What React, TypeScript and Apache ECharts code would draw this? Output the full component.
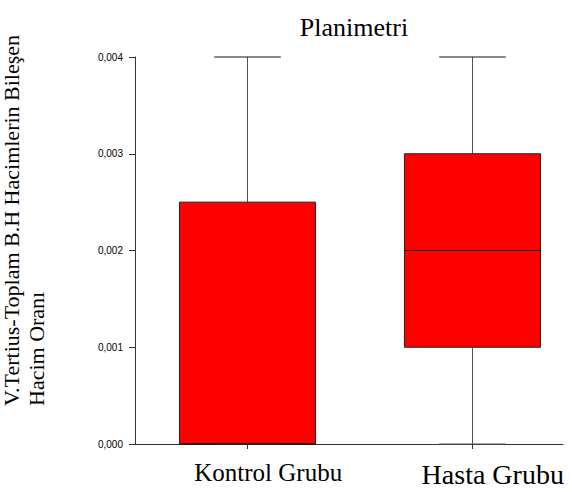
import React, { useEffect, useRef } from "react";
import * as echarts from "echarts";

const categories = ["Kontrol Grubu", "Hasta Grubu"];
// [min, Q1, median, Q3, max]
const boxValues = [
  [0, 0, 0, 0.0025, 0.004],
  [0, 0.001, 0.002, 0.003, 0.004],
];
const yTicks = [0, 0.001, 0.002, 0.003, 0.004];
const yTickLabels = ["0,000", "0,001", "0,002", "0,003", "0,004"];
const titleText = "Planimetri";
const yTitleLines = ["V.Tertius-Toplam B.H Hacimlerin Bileşen", "Hacim Oranı"];

const SERIF = '"Liberation Serif", "Times New Roman", Times, serif';
const SANS = '"Liberation Sans", Arial, Helvetica, sans-serif';

export default function App() {
  const ref = useRef<HTMLDivElement>(null);
  useEffect(() => {
    if (!ref.current) return;
    const chart = echarts.init(ref.current, null, { renderer: "svg" });
    const data = boxValues.map((v, i) => [i, ...v]);
    chart.setOption({
      animation: false,
      backgroundColor: "#ffffff",
      graphic: [
        {
          type: "text",
          x: 354,
          y: 27,
          style: {
            text: titleText,
            fontFamily: SERIF,
            fontSize: 26,
            fill: "#000",
            textAlign: "center",
            textVerticalAlign: "middle",
          },
        },
        {
          type: "text",
          x: -1,
          y: 406,
          rotation: Math.PI / 2,
          style: {
            text: yTitleLines.join("\n"),
            fontFamily: SERIF,
            fontSize: 22,
            lineHeight: 25,
            fill: "#000",
            textAlign: "left",
            textVerticalAlign: "top",
          },
        },
      ],
      grid: [
        { left: 135, top: 57, width: 449, height: 387, outerBoundsMode: "none", containLabel: false },
        { left: 135, top: 57, width: 428, height: 387, outerBoundsMode: "none", containLabel: false },
      ],
      xAxis: [
        {
          type: "category",
          gridIndex: 0,
          data: categories,
          boundaryGap: true,
          axisLine: { show: false },
          axisTick: {
            show: true,
            alignWithLabel: true,
            length: 5,
            lineStyle: { color: "#333", width: 1 },
          },
          axisLabel: {
            margin: 16,
            padding: [0, 0, 0, 42],
            formatter: (v: string) => (v === categories[0] ? `{k|${v}}` : `{h|${v}}`),
            rich: {
              k: { fontFamily: SERIF, fontSize: 25, color: "#000" },
              h: { fontFamily: SERIF, fontSize: 28, color: "#000" },
            },
          },
          splitLine: { show: false },
        },
        {
          type: "value",
          gridIndex: 1,
          min: 0,
          max: 1,
          axisLine: { show: true, lineStyle: { color: "#333", width: 1 } },
          axisTick: { show: false },
          axisLabel: { show: false },
          splitLine: { show: false },
        },
      ],
      yAxis: [
        {
          type: "value",
          gridIndex: 0,
          min: yTicks[0],
          max: yTicks[yTicks.length - 1],
          interval: 0.001,
          axisLine: { show: true, lineStyle: { color: "#333", width: 1 } },
          axisTick: { show: true, length: 6, lineStyle: { color: "#333" } },
          axisLabel: {
            margin: 12,
            fontFamily: SANS,
            fontSize: 10,
            color: "#000",
            formatter: (v: number) => {
              const idx = yTicks.findIndex((t) => Math.abs(t - v) < 1e-9);
              return idx >= 0 ? yTickLabels[idx] : "";
            },
          },
          splitLine: { show: false },
        },
        {
          type: "value",
          gridIndex: 1,
          show: false,
        },
      ],
      series: [
        {
          type: "custom",
          xAxisIndex: 0,
          yAxisIndex: 0,
          data,
          encode: { x: 0, y: [1, 2, 3, 4, 5] },
          renderItem: (params: any, api: any) => {
            const idx = api.value(0);
            const vals = [1, 2, 3, 4, 5].map((d) => api.value(d));
            const band = api.size([1, 0])[0];
            const boxW = band * 0.606;
            const capW = boxW * 0.49;
            const pts = vals.map((v: number) => api.coord([idx, v]));
            const cx = Math.round(pts[0][0]) + 0.5;
            const yMin = pts[0][1];
            const yQ1 = pts[1][1];
            const yMed = pts[2][1];
            const yQ3 = pts[3][1];
            const yMax = pts[4][1];
            const children: any[] = [];
            children.push({
              type: "line",
              shape: { x1: cx, y1: yQ3, x2: cx, y2: yMax },
              style: { stroke: "#555", lineWidth: 1 },
            });
            if (Math.abs(yMin - yQ1) > 0.5) {
              children.push({
                type: "line",
                shape: { x1: cx, y1: yQ1, x2: cx, y2: yMin },
                style: { stroke: "#555", lineWidth: 1 },
              });
            }
            children.push({
              type: "line",
              shape: { x1: cx - capW / 2, y1: yMax, x2: cx + capW / 2, y2: yMax },
              style: { stroke: "#111", lineWidth: 1 },
            });
            children.push({
              type: "line",
              shape: { x1: cx - capW / 2, y1: yMin, x2: cx + capW / 2, y2: yMin },
              style: { stroke: "#555", lineWidth: 1 },
            });
            children.push({
              type: "rect",
              shape: { x: cx - boxW / 2, y: yQ3, width: boxW, height: yQ1 - yQ3 },
              style: { fill: "#ff0000", stroke: "#222", lineWidth: 1 },
            });
            children.push({
              type: "line",
              shape: { x1: cx - boxW / 2, y1: yMed, x2: cx + boxW / 2, y2: yMed },
              style: { stroke: "#111", lineWidth: 1 },
            });
            return { type: "group", children };
          },
        },
      ],
    });
    return () => chart.dispose();
  }, []);
  return (
    <div
      ref={ref}
      style={{ position: "absolute", left: 0, top: 0, width: 572, height: 492 }}
    />
  );
}
